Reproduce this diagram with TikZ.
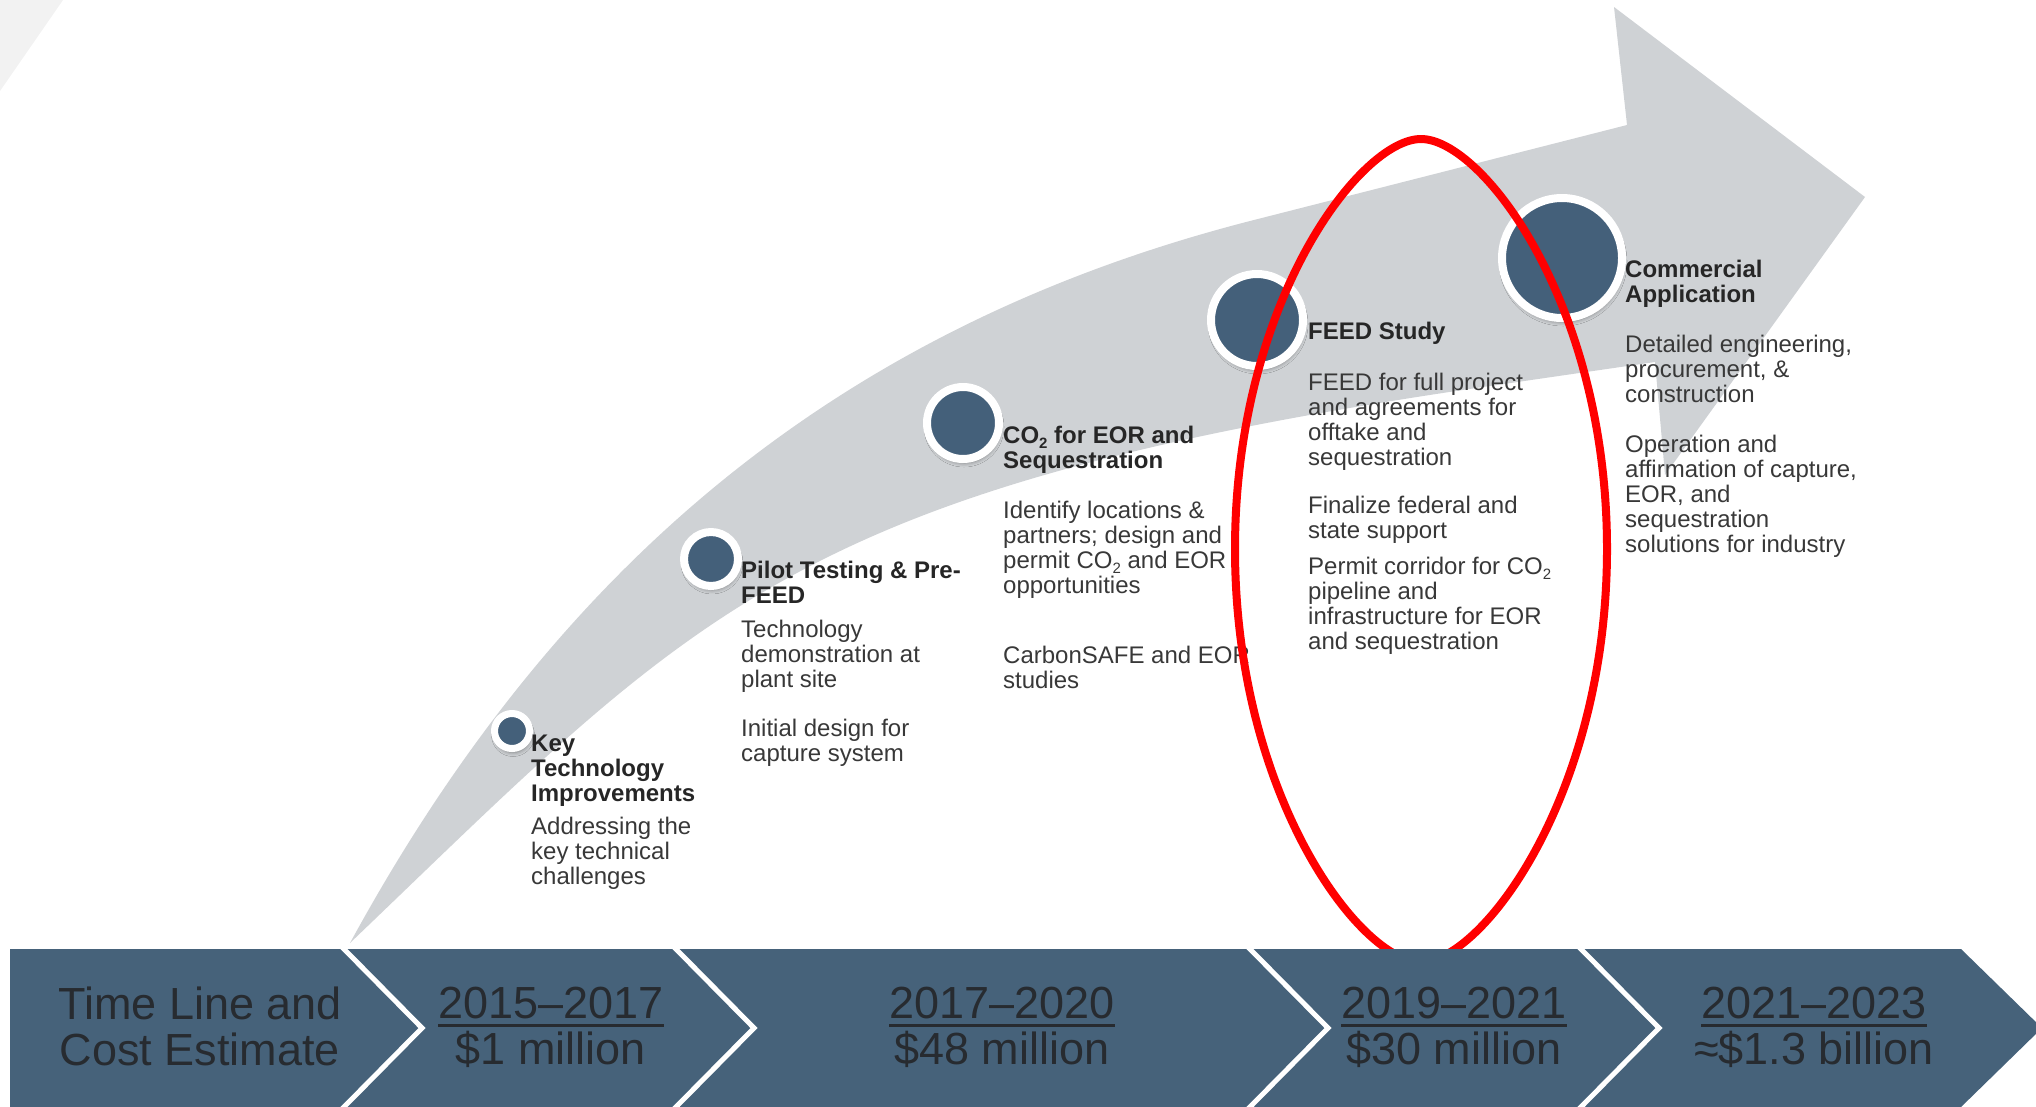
\documentclass[tikz,border=0pt]{standalone}
\usepackage{fontspec}
\setmainfont{Liberation Sans}
\usetikzlibrary{positioning,shadows.blur}

\definecolor{bandblue}{HTML}{46627A}
\definecolor{dotblue}{HTML}{44607A}
\definecolor{arrowgray}{HTML}{CFD2D5}
\definecolor{cornergray}{HTML}{F2F2F2}
\definecolor{bodytext}{HTML}{383838}
\definecolor{headtext}{HTML}{262626}
\definecolor{bandtext}{HTML}{272B30}

% CO2 with a lowered, smaller 2
\newcommand\cotwo{CO\raisebox{-0.22em}{\fontsize{15}{15}\selectfont 2}}
% year range with a heavy rule under it
\newsavebox\yrbox
\newcommand\ulyear[1]{\sbox\yrbox{#1}\rlap{\rule[-8pt]{\wd\yrbox}{3pt}}\usebox\yrbox}

\begin{document}
\begin{tikzpicture}[%
    x=1pt, y=-1pt,              % one unit per pixel, y runs downwards
    line join=miter,
    ]
% -------------------------------------------------
% Styles for the milestones, their texts and the time band
\tikzset{
  milestone/.style={circle, fill=dotblue, draw=white, inner sep=0,
    blur shadow={shadow xshift=1pt, shadow yshift=-4pt,
                 shadow blur radius=4pt, shadow opacity=40}},
  txt/.style={inner sep=0, align=left, anchor=north west,
    execute at begin node=\strut, execute at end node=\strut},
  head/.style={txt, font=\fontsize{24}{25}\selectfont\bfseries, text=headtext},
  note/.style={txt, font=\fontsize{24}{25}\selectfont, text=bodytext},
  phase/.style={inner sep=0, align=center, text=bandtext,
    font=\fontsize{45}{46}\selectfont,
    execute at begin node=\strut, execute at end node=\strut},
  sep/.style={white, line width=5pt},
  circled/.style={red, line width=8pt},
}
\useasboundingbox (0,0) rectangle (2036,1106);

% -------------------------------------------------
% Background: corner wedge and the big curved arrow
\fill[cornergray] (0,0) -- (63,0) -- (0,91) -- cycle;
\fill[arrowgray] (350,943) .. controls (542,591) and (814,333) .. (1250,221)
  -- (1627,125) -- (1614,7) -- (1865,197) -- (1665,475) -- (1655,362)
  -- (1483,387) .. controls (790,488) and (696,612) .. (350,943) -- cycle;

% -------------------------------------------------
% Milestones along the arrow
\node[milestone, minimum size=35pt, line width=7pt] (keyDot)   at (512,731)  {};
\node[milestone, minimum size=54pt, line width=8pt] (pilotDot) at (711,559)  {};
\node[milestone, minimum size=72pt, line width=8pt] (co2Dot)   at (963,423)  {};
\node[milestone, minimum size=92pt, line width=8pt] (feedDot)  at (1257,320) {};
\node[milestone, minimum size=120pt, line width=8pt] (commDot) at (1562,258) {};

% Titles and notes; notes hang below their title
\node[head] (keyT) at (531,734.5) {Key\\Technology\\Improvements};
\node[note, below=8pt of keyT.south west, anchor=north west] (keyN)
  {Addressing the\\key technical\\challenges};

\node[head] (pilotT) at (741,560.5) {Pilot Testing \& Pre-\\FEED};
\node[note, below=9pt of pilotT.south west, anchor=north west] (pilotN1)
  {Technology\\demonstration at\\plant site};
\node[note, below=24pt of pilotN1.south west, anchor=north west] (pilotN2)
  {Initial design for\\capture system};

\node[head] (co2T) at (1003,425.5) {\cotwo{} for EOR and\\Sequestration};
\node[note, below=25pt of co2T.south west, anchor=north west] (co2N1)
  {Identify locations \&\\partners; design and\\permit \cotwo{} and EOR\\opportunities};
\node[note, below=45pt of co2N1.south west, anchor=north west] (co2N2)
  {CarbonSAFE and EOR\\studies};

\node[head] (feedT) at (1308,321.5) {FEED Study};
\node[note, below=26pt of feedT.south west, anchor=north west] (feedN1)
  {FEED for full project\\and agreements for\\offtake and\\sequestration};
\node[note, below=23pt of feedN1.south west, anchor=north west] (feedN2)
  {Finalize federal and\\state support};
\node[note, below=10pt of feedN2.south west, anchor=north west] (feedN3)
  {Permit corridor for \cotwo\\pipeline and\\infrastructure for EOR\\and sequestration};

\node[head] (commT) at (1625,259.5) {Commercial\\Application};
\node[note, below=25pt of commT.south west, anchor=north west] (commN1)
  {Detailed engineering,\\procurement, \&\\construction};
\node[note, below=25pt of commN1.south west, anchor=north west] (commN2)
  {Operation and\\affirmation of capture,\\EOR, and\\sequestration\\solutions for industry};

% Highlight round the FEED stage
\draw[circled] (1421,139) .. controls (1482,139) and (1607,303) .. (1607,549)
  .. controls (1607,795) and (1482,962) .. (1421,962)
  .. controls (1360,962) and (1235,795) .. (1235,549)
  .. controls (1235,303) and (1360,139) .. (1421,139) -- cycle;

% -------------------------------------------------
% Time band with chevron separators
\fill[bandblue] (10,949) -- (1961,949) -- (2042,1028) -- (1961,1107)
  -- (10,1107) -- cycle;
\foreach \sx in {341,673,1247,1578}
  \draw[sep] (\sx,946) -- (\sx+81,1028) -- (\sx,1110);

\node[phase] (tlce) at (200,1033)  {Time Line and\\Cost Estimate};
\node[phase] (yr1)  at (551,1033)  {\ulyear{2015–2017}\\\$1 million};
\node[phase] (yr2)  at (1002,1033) {\ulyear{2017–2020}\\\$48 million};
\node[phase] (yr3)  at (1454,1033) {\ulyear{2019–2021}\\\$30 million};
\node[phase] (yr4)  at (1814,1033) {\ulyear{2021–2023}\\≈\$1.3 billion};
% -------------------------------------------------
\end{tikzpicture}
\end{document}
